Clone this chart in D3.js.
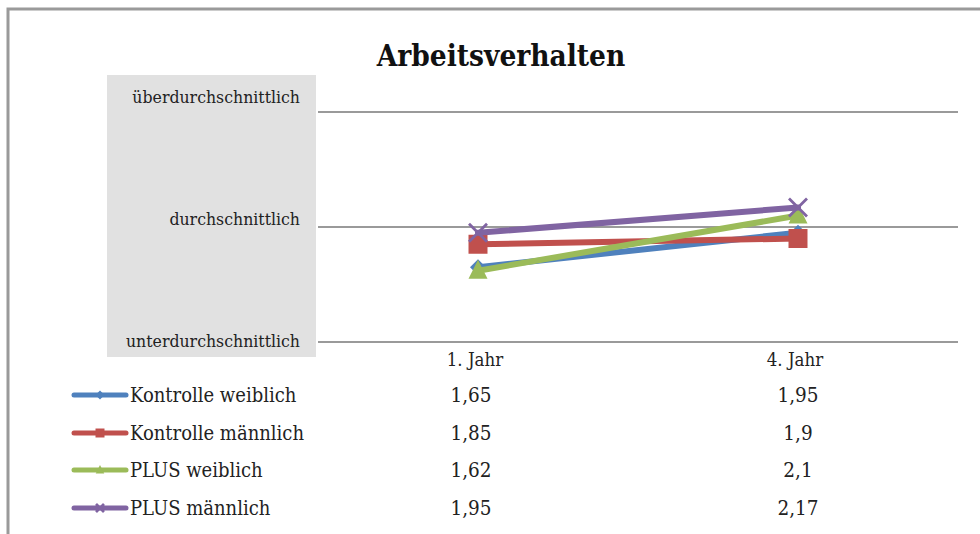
<!DOCTYPE html>
<html>
<head>
<meta charset="utf-8">
<script src="https://cdn.jsdelivr.net/npm/d3@7"></script>
<style>
  html, body { margin: 0; padding: 0; background: #fff; }
  svg { display: block; }
  text { font-family: "DejaVu Serif Condensed", "DejaVu Serif", serif; font-stretch: condensed; fill: #222; }
</style>
</head>
<body>
<svg id="chart" width="980" height="534"></svg>
<script>
// Data
const title = "Arbeitsverhalten";
const categories = ["1. Jahr", "4. Jahr"];
const seriesNames = ["Kontrolle weiblich", "Kontrolle männlich", "PLUS weiblich", "PLUS männlich"];
const kontrolleWeiblich = [1.65, 1.95];
const kontrolleMaennlich = [1.85, 1.9];
const plusWeiblich = [1.62, 2.1];
const plusMaennlich = [1.95, 2.17];
const yTickValues = [1, 2, 3];
const yTickLabels = ["unterdurchschnittlich", "durchschnittlich", "überdurchschnittlich"];

const seriesValues = [kontrolleWeiblich, kontrolleMaennlich, plusWeiblich, plusMaennlich];
const colors = ["#4f81bd", "#c0504d", "#9bbb59", "#8064a2"];
const markers = ["diamond", "square", "triangle", "cross"];
const markerSize = { diamond: 8, square: 9.5, triangle: 10, cross: 9 };
const fmt = v => String(v).replace(".", ",");

const svg = d3.select("#chart");

// Outer frame (top and left edges)
svg.append("path")
  .attr("d", "M8,534 L8,9 L980,9")
  .attr("fill", "none").attr("stroke", "#9a9a9a").attr("stroke-width", 3);

// Title
svg.append("text")
  .attr("x", 501).attr("y", 66)
  .attr("text-anchor", "middle")
  .style("font-size", "29.5px").style("font-weight", "bold")
  .style("fill", "#111")
  .text(title);

// Plot area
const plot = { left: 318, right: 958, top: 112, bottom: 342 };
const x = d3.scaleBand().domain(categories).range([plot.left, plot.right]);
const y = d3.scaleLinear().domain([1, 3]).range([plot.bottom, plot.top]);
// axis labels sit inside the grey panel
const yLabel = d3.scaleLinear().domain([1, 3]).range([347, 103]);

// Grey label panel
svg.append("rect")
  .attr("x", 107).attr("y", 75).attr("width", 209).attr("height", 282)
  .attr("fill", "#e1e1e1");

// Gridlines
svg.append("g").selectAll("line").data(yTickValues).join("line")
  .attr("x1", plot.left).attr("x2", plot.right)
  .attr("y1", d => y(d)).attr("y2", d => y(d))
  .attr("stroke", "#9a9a9a").attr("stroke-width", 2);

// Y labels
svg.append("g").selectAll("text").data(yTickValues).join("text")
  .attr("x", 300).attr("y", d => yLabel(d))
  .attr("text-anchor", "end")
  .style("font-size", "17.5px")
  .text((d, i) => yTickLabels[i]);

// Marker drawing
function markerPath(type, s) {
  switch (type) {
    case "diamond": return `M0,${-s} L${s},0 L0,${s} L${-s},0 Z`;
    case "square": return `M${-s},${-s} H${s} V${s} H${-s} Z`;
    case "triangle": return `M0,${-s * 1.1} L${s * 0.95},${s * 0.8} L${-s * 0.95},${s * 0.8} Z`;
    case "cross": return `M${-s},${-s} L${s},${s} M${s},${-s} L${-s},${s}`;
  }
}
function drawMarker(g, type, color, s) {
  const p = g.append("path").attr("d", markerPath(type, s));
  if (type === "cross") p.attr("fill", "none").attr("stroke", color).attr("stroke-width", 2.8);
  else p.attr("fill", color);
}

// Lines and markers
const line = d3.line().x((d, i) => x(categories[i]) + x.bandwidth() / 2).y(d => y(d));
seriesValues.forEach((vals, si) => {
  const g = svg.append("g");
  g.append("path").datum(vals)
    .attr("d", line)
    .attr("fill", "none").attr("stroke", colors[si])
    .attr("stroke-width", 6).attr("stroke-linecap", "round");
  vals.forEach((v, i) => {
    const mg = g.append("g").attr("transform", `translate(${x(categories[i]) + x.bandwidth() / 2},${y(v)})`);
    drawMarker(mg, markers[si], colors[si], markerSize[markers[si]]);
  });
});

// Data table: header row
const rowY = [360, 395, 433, 470, 508];
svg.append("g").selectAll("text").data(categories).join("text")
  .attr("x", d => x(d) + x.bandwidth() / 2 - 3).attr("y", rowY[0])
  .attr("dy", "0.35em").attr("text-anchor", "middle")
  .style("font-size", "18.5px")
  .text(d => d);

// Data table: legend + values
seriesNames.forEach((name, si) => {
  const ry = rowY[si + 1];
  const lg = svg.append("g");
  lg.append("line")
    .attr("x1", 74).attr("x2", 126).attr("y1", ry).attr("y2", ry)
    .attr("stroke", colors[si]).attr("stroke-width", 5).attr("stroke-linecap", "round");
  const mg = lg.append("g").attr("transform", `translate(100,${ry})`);
  drawMarker(mg, markers[si], colors[si], markers[si] === "cross" ? 4 : 4.5);
  lg.append("text")
    .attr("x", 130).attr("y", ry).attr("dy", "0.35em")
    .style("font-size", "20px")
    .text(name);
  seriesValues[si].forEach((v, i) => {
    svg.append("text")
      .attr("x", x(categories[i]) + x.bandwidth() / 2 - (i === 0 ? 7 : 0))
      .attr("y", ry).attr("dy", "0.35em").attr("text-anchor", "middle")
      .style("font-size", "20.5px")
      .text(fmt(v));
  });
});
</script>
</body>
</html>
